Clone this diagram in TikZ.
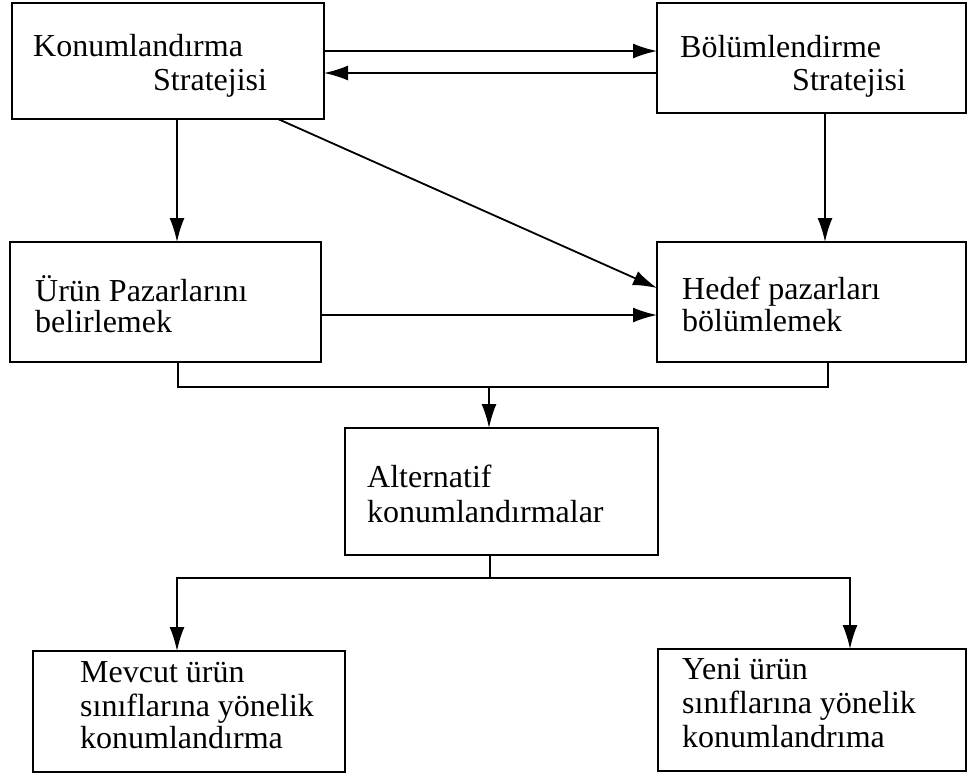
\documentclass[tikz,border=0pt]{standalone}
\usepackage{fontspec}
\setmainfont{Liberation Serif}
\usetikzlibrary{arrows.meta}
\begin{document}
\begin{tikzpicture}[x=1pt,y=-1pt,
  box/.style={draw,line width=1.8pt,inner sep=0pt,outer sep=0pt,anchor=north west},
  lbl/.style={anchor=base west,inner sep=0pt,font=\fontsize{32}{34}\selectfont},
  link/.style={line width=1.8pt},
  arr/.style={link,-{Latex[length=24pt,width=15pt]}}]
\useasboundingbox (0,0) rectangle (969,776);

% boxes
\node[box,minimum width=312pt,minimum height=116pt] (k1) at (12,3) {};
\node[box,minimum width=309pt,minimum height=110pt] (b2) at (657,3) {};
\node[box,minimum width=311pt,minimum height=120pt] (u3) at (10,242) {};
\node[box,minimum width=309pt,minimum height=120pt] (h4) at (657,242) {};
\node[box,minimum width=313pt,minimum height=127pt] (a5) at (345,428) {};
\node[box,minimum width=312pt,minimum height=121pt] (m6) at (33,651) {};
\node[box,minimum width=308pt,minimum height=122pt] (y7) at (658,649) {};

% labels
\node[lbl] (k1a) at (33,57) {Konumlandırma};
\node[lbl] (k1b) at (153,90) {Stratejisi};
\node[lbl] (b2a) at (680,58) {Bölümlendirme};
\node[lbl] (b2b) at (792,91) {Stratejisi};
\node[lbl] (u3a) at (35,301) {Ürün Pazarlarını};
\node[lbl] (u3b) at (35,332) {belirlemek};
\node[lbl] (h4a) at (682,299) {Hedef pazarları};
\node[lbl] (h4b) at (682,331) {bölümlemek};
\node[lbl] (a5a) at (367,487) {Alternatif};
\node[lbl] (a5b) at (367,522) {konumlandırmalar};
\node[lbl] (m6a) at (80,682) {Mevcut ürün};
\node[lbl] (m6b) at (80,716) {sınıflarına yönelik};
\node[lbl] (m6c) at (80,748) {konumlandırma};
\node[lbl] (y7a) at (682,679) {Yeni ürün};
\node[lbl] (y7b) at (682,713) {sınıflarına yönelik};
\node[lbl] (y7c) at (682,747) {konumlandrıma};

% junction points
\coordinate (j) at (489,387);
\coordinate (s) at (490,578);

% connectors
\draw[arr] (k1.east |- 0,51) -- (b2.west |- 0,51);
\draw[arr] (b2.west |- 0,73) -- (k1.east |- 0,73);
\draw[arr] (k1.south -| 177,0) -- (u3.north -| 177,0);
\draw[arr] (b2.south -| 825,0) -- (h4.north -| 825,0);
\draw[arr] (k1.south -| 278,0) -- (h4.west |- 0,288);
\draw[arr] (u3.east |- 0,315) -- (h4.west |- 0,315);
\draw[link] (u3.south -| 178,0) |- (j) -| (h4.south -| 828,0);
\draw[arr] (j) -- (a5.north -| j);
\draw[link] (a5.south -| s) -- (s);
\draw[arr] (s) -| (m6.north -| 177,0);
\draw[arr] (s) -| (y7.north -| 850,0);
\end{tikzpicture}
\end{document}
